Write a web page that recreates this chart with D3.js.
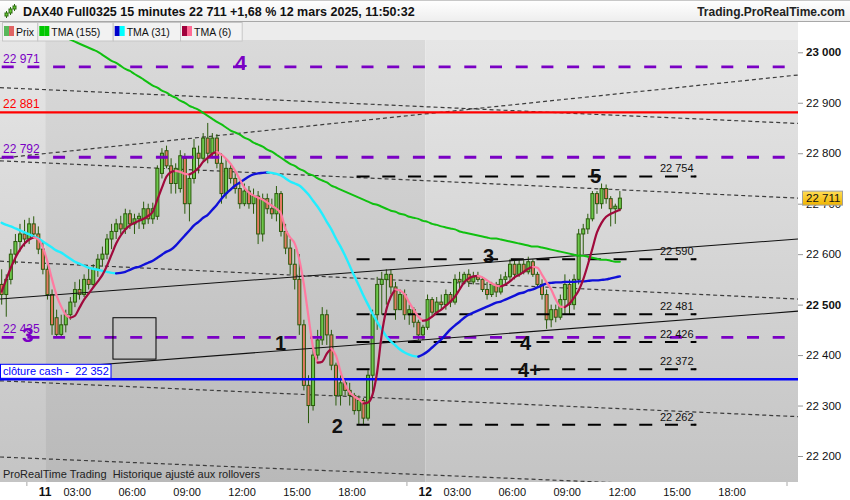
<!DOCTYPE html>
<html><head><meta charset="utf-8">
<script src="https://cdn.jsdelivr.net/npm/d3@7/dist/d3.min.js"></script>
<style>
html,body{margin:0;padding:0;background:#fff;}
svg{display:block;font-family:"Liberation Sans",Arial,sans-serif;}
text{white-space:pre;}
</style></head><body>
<svg id="chart" width="850" height="500"></svg>
<script>
// ================= DATA =================
const titleText = "DAX40 Full0325 15 minutes 22 711 +1,68 % 12 mars 2025, 11:50:32";
const brandText = "Trading.ProRealTime.com";
const footText = "ProRealTime Trading  Historique ajusté aux rollovers";
const legendNames = ["Prix", "TMA (155)", "TMA (31)", "TMA (6)"];
const cashLabel = "clôture cash -  22 352";

// trading sessions shown (15-minute bars)
const sessions = [
  {day: 10, from: "19:30", to: "21:45"},
  {day: 11, from: "01:15", to: "21:45"},
  {day: 12, from: "01:15", to: "11:45"}
];
const xTickLabels = [
  {day: 11, time: "01:15", label: "11", bold: true},
  {day: 11, time: "03:00", label: "03:00"},
  {day: 11, time: "06:00", label: "06:00"},
  {day: 11, time: "09:00", label: "09:00"},
  {day: 11, time: "12:00", label: "12:00"},
  {day: 11, time: "15:00", label: "15:00"},
  {day: 11, time: "18:00", label: "18:00"},
  {day: 12, time: "01:15", label: "12", bold: true},
  {day: 12, time: "03:00", label: "03:00"},
  {day: 12, time: "06:00", label: "06:00"},
  {day: 12, time: "09:00", label: "09:00"},
  {day: 12, time: "12:00", label: "12:00"},
  {day: 12, time: "15:00", label: "15:00"},
  {day: 12, time: "18:00", label: "18:00"}
];
const xMinorTicks = [{day: 10, time: "21:00"}, {day: 11, time: "21:00"}, {day: 12, time: "21:00"}];
const yTickValues = [22200, 22300, 22400, 22500, 22600, 22700, 22800, 22900, 23000];
const yBoldTicks = [22500, 23000];

const opens = [
  22540,22520,22550,22600,22625,22640,22630,22660,22640,22610,
  22570,22520,22474,22441,22460,22480,22505,22530,22520,22550,
  22540,22570,22590,22600,22630,22645,22660,22650,22680,22660,
  22670,22660,22690,22670,22675,22760,22805,22775,22740,22730,
  22790,22700,22750,22800,22790,22830,22800,22830,22780,22720,
  22770,22750,22730,22700,22725,22700,22715,22640,22710,22690,
  22680,22720,22645,22612,22580,22550,22460,22340,22300,22400,
  22430,22480,22440,22380,22320,22345,22330,22320,22290,22310,
  22275,22360,22480,22540,22550,22560,22535,22490,22520,22480,
  22490,22465,22440,22455,22510,22485,22505,22500,22520,22505,
  22550,22545,22560,22545,22555,22550,22530,22520,22540,22525,
  22550,22555,22580,22560,22580,22565,22585,22560,22540,22520,
  22470,22490,22475,22510,22540,22500,22550,22640,22650,22670,
  22720,22700,22730,22710,22690,22690
];
const highs = [
  22570,22560,22610,22640,22660,22668,22672,22675,22655,22625,
  22585,22530,22490,22480,22490,22515,22545,22550,22560,22575,
  22580,22600,22615,22640,22660,22670,22676,22690,22688,22680,
  22682,22704,22700,22702,22776,22810,22815,22790,22780,22806,
  22800,22760,22828,22815,22840,22860,22840,22838,22800,22790,
  22780,22765,22745,22740,22735,22730,22725,22720,22720,22710,
  22735,22725,22660,22630,22610,22600,22470,22360,22415,22450,
  22495,22490,22450,22385,22360,22350,22345,22325,22320,22315,
  22370,22490,22555,22565,22570,22570,22545,22530,22530,22500,
  22495,22470,22460,22520,22515,22515,22520,22530,22525,22560,
  22565,22565,22570,22565,22565,22555,22545,22545,22545,22560,
  22565,22590,22590,22590,22588,22595,22590,22565,22550,22530,
  22500,22500,22520,22560,22550,22560,22650,22660,22680,22725,
  22725,22740,22738,22715,22700,22725
];
const lows = [
  22500,22476,22540,22580,22605,22615,22620,22630,22600,22560,
  22510,22440,22437,22435,22445,22470,22495,22510,22515,22530,
  22535,22555,22575,22590,22610,22630,22640,22640,22650,22640,
  22650,22650,22660,22660,22668,22750,22770,22720,22720,22722,
  22680,22665,22740,22760,22785,22780,22790,22770,22700,22710,
  22740,22720,22690,22695,22690,22680,22620,22625,22680,22670,
  22665,22635,22600,22560,22530,22440,22330,22265,22290,22390,
  22420,22420,22370,22300,22300,22320,22300,22282,22262,22262,
  22270,22320,22450,22480,22500,22520,22470,22490,22470,22460,
  22455,22430,22430,22450,22475,22480,22490,22490,22495,22500,
  22530,22540,22535,22540,22545,22525,22510,22515,22515,22520,
  22540,22545,22550,22555,22560,22560,22555,22535,22510,22452,
  22455,22465,22470,22480,22480,22490,22540,22600,22640,22665,
  22680,22690,22700,22655,22660,22685
];
const closes = [
  22520,22550,22600,22625,22640,22630,22660,22640,22610,22570,
  22520,22460,22441,22460,22480,22505,22530,22520,22550,22540,
  22570,22590,22600,22630,22645,22660,22650,22680,22660,22670,
  22675,22690,22670,22690,22770,22800,22775,22740,22770,22795,
  22700,22750,22810,22790,22830,22800,22830,22780,22720,22770,
  22750,22730,22700,22725,22700,22715,22640,22710,22690,22680,
  22720,22645,22612,22580,22550,22460,22340,22300,22400,22430,
  22480,22440,22380,22320,22345,22330,22320,22290,22310,22275,
  22360,22480,22540,22550,22560,22535,22490,22520,22480,22490,
  22465,22440,22455,22510,22485,22505,22500,22520,22505,22550,
  22545,22560,22545,22555,22550,22530,22520,22540,22525,22550,
  22555,22580,22560,22580,22565,22585,22560,22540,22520,22470,
  22490,22475,22510,22540,22500,22550,22640,22650,22670,22720,
  22700,22730,22710,22690,22695,22711
];
const tma155 = [
  null,null,null,null,null,null,null,null,null,null,
  null,null,null,23033,23029,
  23025,23021,23017,23013,23009,23005,23001,22995,22989,22983,
  22979,22973,22967,22963,22957,22952,22946,22940,22934,22930,
  22924,22920,22914,22910,22904,22900,22894,22890,22886,22880,
  22874,22868,22862,22857,22851,22845,22841,22837,22831,22827,
  22821,22817,22813,22807,22803,22797,22791,22785,22779,22775,
  22769,22765,22759,22756,22750,22746,22742,22736,22732,22728,
  22724,22720,22716,22712,22708,22704,22700,22698,22694,22690,
  22686,22684,22680,22678,22674,22672,22670,22666,22664,22660,
  22658,22655,22653,22651,22649,22645,22643,22641,22639,22637,
  22635,22633,22631,22631,22629,22627,22625,22623,22621,22619,
  22617,22615,22615,22613,22611,22609,22607,22605,22603,22601,
  22599,22597,22597,22595,22593,22591,22589,22589,22587,22585,22585
];
const tma31 = [
  22662,22658,22655,22651,22647,22643,22639,22635,22631,22625,
  22619,22613,22607,22603,22597,22591,22585,22581,22577,22573,
  22571,22569,22567,22565,22563,22562,22563,22565,22569,22573,
  22575,22579,22583,22587,22593,22599,22605,22609,22617,22627,
  22637,22647,22657,22664,22672,22678,22688,22698,22710,22720,
  22728,22736,22742,22748,22754,22758,22760,22761,22762,22761,
  22759,22756,22750,22744,22740,22736,22728,22718,22706,22694,
  22680,22664,22649,22631,22615,22597,22577,22557,22538,22518,
  22500,22482,22466,22451,22437,22427,22419,22411,22405,22401,
  22398,22397,22401,22407,22415,22423,22431,22441,22451,22459,
  22466,22474,22480,22484,22488,22492,22496,22500,22504,22506,
  22510,22514,22518,22522,22524,22528,22530,22534,22538,22542,
  22543,22544,22544,22545,22545,22545,22546,22546,22547,22548,
  22548,22549,22550,22552,22554,22556
];
const tma6 = [
  22526,22550,22573,22593,22609,22621,22629,22633,22629,22613,
  22585,22550,22518,22496,22480,22474,22478,22494,22510,22522,
  22534,22546,22559,22577,22599,22621,22637,22649,22657,22662,
  22666,22670,22676,22684,22708,22732,22754,22763,22765,22763,
  22759,22758,22763,22771,22783,22791,22799,22803,22797,22789,
  22779,22765,22748,22732,22722,22716,22712,22708,22702,22696,
  22690,22680,22649,22633,22621,22589,22540,22476,22415,22385,
  22387,22403,22413,22399,22367,22342,22326,22318,22312,22304,
  22306,22322,22367,22441,22490,22516,22530,22528,22520,22504,
  22490,22476,22468,22470,22476,22484,22490,22498,22506,22516,
  22530,22544,22552,22556,22557,22554,22548,22542,22538,22536,
  22540,22546,22554,22559,22565,22571,22575,22573,22559,22544,
  22530,22510,22496,22495,22502,22514,22528,22550,22579,22611,
  22643,22662,22674,22680,22684,22688
];
const lastPrice = 22711;

const purpleLevels = [22971, 22792, 22435];
const redLevel = 22881;
const cashClose = 22352;
const blackLevels = [22754, 22590, 22481, 22426, 22372, 22262];
const blackLevelSpan = {from: {day: 11, time: "18:15"}, to: {day: 12, time: "16:00"}};
// trend lines: price at left edge / right edge of the visible window
const solidTrends = [[22511, 22630], [22366, 22487]];
const dottedTrends = [[22930, 22859], [22790, 22955], [22785, 22711], [22586, 22511], [22349, 22278], [22198, 22132]];
const boxZone = {from: {day: 11, time: "04:57"}, to: {day: 11, time: "07:18"}, top: 22474, bottom: 22392};
const purpleWaves = [
  {text: "4", day: 11, time: "11:37", price: 22965},
  {text: "3", day: 10, time: "20:44", price: 22426}
];
const blackWaves = [
  {text: "1", day: 11, time: "13:48", price: 22410},
  {text: "2", day: 11, time: "16:54", price: 22246},
  {text: "3", day: 12, time: "04:24", price: 22582},
  {text: "4", day: 12, time: "06:25", price: 22410},
  {text: "4+", day: 12, time: "06:19", price: 22357},
  {text: "5", day: 12, time: "10:15", price: 22741}
];

// ================= HELPERS / SCALES =================
const SESSION_START = 75, SESSION_LEN = 1245; // 01:15 .. 22:00
function tm(day, hhmm) {
  const [h, m] = hhmm.split(":").map(Number);
  return (day - 10) * SESSION_LEN + h * 60 + m - SESSION_START;
}
const fmt = v => d3.format(",")(v).replace(/,/g, " ");

const PL = 0, PR = 798, PT = 40, PB = 482;
const x = d3.scaleLinear().domain([tm(10, "19:32"), tm(12, "21:36")]).range([PL, PR]);
const y = d3.scaleLinear().domain([22200, 23000]).range([456, 52.3]);

const bars = [];
sessions.forEach(s => { for (let t = tm(s.day, s.from); t <= tm(s.day, s.to); t += 15) bars.push(t); });

const svg = d3.select("#chart");
const defs = svg.append("defs");
function grad(id, stops) {
  const g = defs.append("linearGradient").attr("id", id).attr("x1", 0).attr("y1", 0).attr("x2", 0).attr("y2", 1);
  stops.forEach(([o, c]) => g.append("stop").attr("offset", o).attr("stop-color", c));
}
grad("gLight", [[0, "#e6e6e6"], [1, "#c4c4c4"]]);
grad("gDark", [[0, "#dadada"], [1, "#b9b9b9"]]);
grad("gTitle", [[0, "#ffffff"], [1, "#eeeeee"]]);
grad("gGold", [[0, "#ffdd55"], [1, "#f0b400"]]);
defs.append("clipPath").attr("id", "plotClip").append("rect")
  .attr("x", PL).attr("y", PT).attr("width", PR - PL).attr("height", PB - PT);

// ================= BACKGROUND =================
[10, 11, 12].forEach(d => {
  const x0 = Math.max(PL, x((d - 10) * SESSION_LEN));
  const x1 = Math.min(PR, x((d - 9) * SESSION_LEN));
  svg.append("rect").attr("x", x0).attr("y", PT).attr("width", x1 - x0).attr("height", PB - PT)
    .attr("fill", d === 11 ? "url(#gDark)" : "url(#gLight)");
});

// title bar
svg.append("rect").attr("x", 0).attr("y", 0).attr("width", 850).attr("height", 21).attr("fill", "url(#gTitle)");
svg.append("line").attr("x1", 0).attr("x2", 850).attr("y1", 0.5).attr("y2", 0.5).attr("stroke", "#c8c8c8");
svg.append("line").attr("x1", 0).attr("x2", 850).attr("y1", 21.5).attr("y2", 21.5).attr("stroke", "#a8a8a8");
svg.append("rect").attr("x", 0).attr("y", 22).attr("width", 798).attr("height", 18).attr("fill", "#ececec");
// right axis & bottom axis area
svg.append("rect").attr("x", PR).attr("y", 22).attr("width", 850 - PR).attr("height", 478).attr("fill", "#fff");
svg.append("rect").attr("x", 0).attr("y", PB).attr("width", 850).attr("height", 500 - PB).attr("fill", "#fff");

// title icon (small candles)
const ic = svg.append("g").attr("stroke", "#2e6b12").attr("stroke-width", 1);
[[6, 11, 18, 13, 16], [10, 7, 15, 9, 13], [14, 4, 11, 6, 9]].forEach(([cx, top, bot, b0, b1]) => {
  ic.append("line").attr("x1", cx + 0.5).attr("x2", cx + 0.5).attr("y1", top).attr("y2", bot);
  ic.append("rect").attr("x", cx - 1).attr("y", b0).attr("width", 3).attr("height", b1 - b0).attr("fill", "#66cc33");
});
svg.append("text").attr("x", 23).attr("y", 16).attr("font-size", 12.5).attr("font-weight", "bold").attr("fill", "#111").text(titleText);
svg.append("text").attr("x", 845).attr("y", 16).attr("text-anchor", "end").attr("font-size", 12).attr("font-weight", "bold").attr("fill", "#222").text(brandText);

// legend
const legendBoxes = [[2, 37.3], [37.3, 112.7], [112.7, 180], [180, 241.7]];
const legendIcons = [["#58b85a", "#e06464"], ["#00c800", "#00c800"], ["#0000cc", "#00ffff"], ["#a0003c", "#ff6b95"]];
legendNames.forEach((n, i) => {
  const [a, b] = legendBoxes[i];
  svg.append("rect").attr("x", a + 0.5).attr("y", 22.5).attr("width", b - a).attr("height", 18.5)
    .attr("fill", "#f2f2f2").attr("stroke", "#c6c6c6");
  svg.append("rect").attr("x", a + 2).attr("y", 26).attr("width", 5).attr("height", 10).attr("fill", legendIcons[i][0]);
  svg.append("rect").attr("x", a + 7).attr("y", 26).attr("width", 5).attr("height", 10).attr("fill", legendIcons[i][1]);
  svg.append("text").attr("x", a + 14).attr("y", 35.5).attr("font-size", 10.5).attr("fill", "#111").text(n);
});

// ================= PLOT CONTENT =================
const plot = svg.append("g").attr("clip-path", "url(#plotClip)");
const xL = x.domain()[0], xR = x.domain()[1];

// dotted trend lines
dottedTrends.forEach(([p1, p2]) => {
  plot.append("line").attr("x1", x(xL)).attr("x2", x(xR)).attr("y1", y(p1)).attr("y2", y(p2))
    .attr("stroke", "#3c3c3c").attr("stroke-width", 1.2).attr("stroke-dasharray", "4,3");
});

// candles
const cg = plot.append("g");
bars.forEach((t, i) => {
  const cx = x(t + 7.5), o = opens[i], c = closes[i], h = highs[i], l = lows[i];
  cg.append("line").attr("x1", cx).attr("x2", cx).attr("y1", y(Math.max(h, o, c))).attr("y2", y(Math.min(l, o, c)))
    .attr("stroke", "#2b5a0c").attr("stroke-width", 1);
  const top = y(Math.max(o, c)), bot = y(Math.min(o, c));
  cg.append("rect").attr("x", cx - 1.5).attr("y", top).attr("width", 3).attr("height", Math.max(1, bot - top))
    .attr("fill", c >= o ? "#6cc84a" : "#e47a62").attr("stroke", "#2b5a0c").attr("stroke-width", 1);
});

// horizontal levels
purpleLevels.forEach(p => {
  plot.append("line").attr("x1", PL + 1.7).attr("x2", PR).attr("y1", y(p)).attr("y2", y(p))
    .attr("stroke", "#7a00c4").attr("stroke-width", 2.8).attr("stroke-dasharray", "12,13.7");
});
plot.append("line").attr("x1", PL).attr("x2", PR).attr("y1", y(redLevel)).attr("y2", y(redLevel))
  .attr("stroke", "#ff0000").attr("stroke-width", 2.2);
plot.append("line").attr("x1", PL).attr("x2", PR).attr("y1", y(cashClose)).attr("y2", y(cashClose))
  .attr("stroke", "#0000ff").attr("stroke-width", 2.6);

const bx0 = x(tm(blackLevelSpan.from.day, blackLevelSpan.from.time));
const bx1 = x(tm(blackLevelSpan.to.day, blackLevelSpan.to.time));
blackLevels.forEach(p => {
  plot.append("line").attr("x1", bx0).attr("x2", bx1).attr("y1", y(p)).attr("y2", y(p))
    .attr("stroke", "#000").attr("stroke-width", 2).attr("stroke-dasharray", "13,12.7");
  plot.append("rect").attr("x", bx1 - 1).attr("y", y(p) - 1).attr("width", 2).attr("height", 2).attr("fill", "#000");
  plot.append("text").attr("x", bx1 - 35.5).attr("y", y(p) - 4).attr("font-size", 11).attr("fill", "#111").text(fmt(p));
});

// box
plot.append("rect").attr("x", x(tm(boxZone.from.day, boxZone.from.time))).attr("y", y(boxZone.top))
  .attr("width", x(tm(boxZone.to.day, boxZone.to.time)) - x(tm(boxZone.from.day, boxZone.from.time)))
  .attr("height", y(boxZone.bottom) - y(boxZone.top)).attr("fill", "none").attr("stroke", "#000").attr("stroke-width", 1);

// solid trend lines
solidTrends.forEach(([p1, p2]) => {
  plot.append("line").attr("x1", x(xL)).attr("x2", x(xR)).attr("y1", y(p1)).attr("y2", y(p2))
    .attr("stroke", "#111").attr("stroke-width", 1.1);
});

// moving averages
function drawMA(vals, up, down, w) {
  const pts = vals.map((v, i) => v == null ? null : {x: x(bars[i] + 7.5), y: y(v), v});
  const runs = []; let cur = null, prevDir = -1;
  for (let i = 1; i < pts.length; i++) {
    if (!pts[i] || !pts[i - 1]) continue;
    const dir = pts[i].v > pts[i - 1].v ? 1 : pts[i].v < pts[i - 1].v ? -1 : prevDir;
    if (!cur || cur.dir !== dir) { cur = {dir, pts: [pts[i - 1]]}; runs.push(cur); }
    cur.pts.push(pts[i]); prevDir = dir;
  }
  const line = d3.line().x(d => d.x).y(d => d.y).curve(d3.curveMonotoneX);
  runs.forEach(r => plot.append("path").attr("d", line(r.pts)).attr("fill", "none")
    .attr("stroke", r.dir > 0 ? up : down).attr("stroke-width", w).attr("stroke-linejoin", "round").attr("stroke-linecap", "round"));
}
drawMA(tma155, "#10c010", "#10c010", 2);
drawMA(tma31, "#1010d8", "#22eeff", 2.4);
drawMA(tma6, "#a00a3c", "#ff7aa0", 2.2);

// level labels on left
purpleLevels.forEach(p => {
  plot.append("text").attr("x", 3).attr("y", y(p) - 4).attr("font-size", 12).attr("fill", "#7a00c4").text(fmt(p));
});
plot.append("text").attr("x", 3).attr("y", y(redLevel) - 4).attr("font-size", 12).attr("fill", "#ff0000").text(fmt(redLevel));
plot.append("rect").attr("x", 0.5).attr("y", y(cashClose) - 15).attr("width", 110.5).attr("height", 14)
  .attr("fill", "#fff").attr("stroke", "#0000ff").attr("stroke-width", 1);
plot.append("text").attr("x", 3).attr("y", y(cashClose) - 4).attr("font-size", 11).attr("fill", "#0000ff").text(cashLabel);

// wave labels
purpleWaves.forEach(d => {
  plot.append("text").attr("x", x(tm(d.day, d.time))).attr("y", y(d.price)).attr("font-size", 21)
    .attr("font-weight", "bold").attr("fill", "#7a00c4").text(d.text);
});
blackWaves.forEach(d => {
  plot.append("text").attr("x", x(tm(d.day, d.time))).attr("y", y(d.price)).attr("font-size", 20)
    .attr("font-weight", "bold").attr("fill", "#111").text(d.text);
});

// footnote
plot.append("text").attr("x", 3).attr("y", 478).attr("font-size", 11).attr("fill", "#222").text(footText);

// ================= AXES =================
const yAxis = d3.axisRight(y).tickValues(yTickValues).tickSize(5).tickPadding(3).tickFormat(fmt);
const ya = svg.append("g").attr("transform", `translate(${PR},0)`).call(yAxis);
ya.select(".domain").remove();
ya.selectAll(".tick line").attr("stroke", "#999");
ya.selectAll(".tick text").attr("font-size", 11.5).attr("fill", "#111")
  .attr("font-family", "Liberation Sans, Arial, sans-serif")
  .attr("font-weight", d => yBoldTicks.includes(d) ? "bold" : "normal");

// last price label
const ly = y(lastPrice);
svg.append("rect").attr("x", 802.5).attr("y", ly - 7).attr("width", 40).attr("height", 14)
  .attr("fill", "url(#gGold)").attr("stroke", "#a0a0a0");
svg.append("text").attr("x", 806).attr("y", ly + 4).attr("font-size", 11.5).attr("fill", "#111").text(fmt(lastPrice));

// x axis labels
xTickLabels.forEach(d => {
  svg.append("text").attr("x", x(tm(d.day, d.time))).attr("y", 496).attr("text-anchor", "middle")
    .attr("font-size", d.bold ? 12 : 11).attr("font-weight", d.bold ? "bold" : "normal").attr("fill", "#111").text(d.label);
});
xMinorTicks.forEach(d => {
  svg.append("line").attr("x1", x(tm(d.day, d.time))).attr("x2", x(tm(d.day, d.time))).attr("y1", PB).attr("y2", PB + 4)
    .attr("stroke", "#aaa");
});
</script>
</body></html>
